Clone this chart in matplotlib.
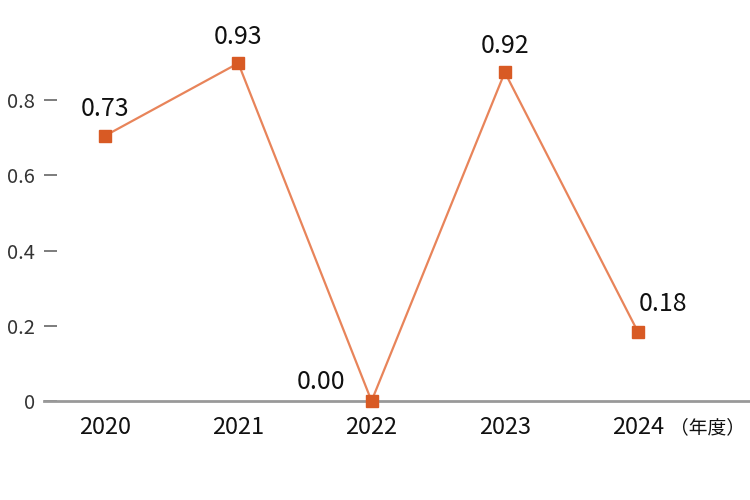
import matplotlib
matplotlib.use("Agg")
import matplotlib.pyplot as plt

plt.rcParams['font.family'] = ['Noto Sans CJK JP', 'DejaVu Sans']

years = ["2020", "2021", "2022", "2023", "2024"]
values = [0.705, 0.898, 0.0, 0.874, 0.183]
labels = ["0.73", "0.93", "0.00", "0.92", "0.18"]
yticks = [0, 0.2, 0.4, 0.6, 0.8]
yticklabels = ["0", "0.2", "0.4", "0.6", "0.8"]
unit_label = "（年度）"

fig = plt.figure(figsize=(7.5, 5), dpi=100)
ax = fig.add_axes([44 / 750, 99 / 500, 1 - 44 / 750, 401 / 500])

x = list(range(len(years)))
ax.plot(x, values, color="#E8845A", linewidth=1.6, zorder=2, clip_on=False)
ax.plot(x, values, linestyle="none", marker="s", markersize=8.5,
        markerfacecolor="#D85A24", markeredgecolor="#D85A24", zorder=3, clip_on=False)

offsets = [(0, 19), (0, 19), (-36, 14), (0, 19), (18, 20)]
for xi, v, lab, off in zip(x, values, labels, offsets):
    ax.annotate(lab, (xi, v), xytext=off, textcoords="offset points",
                ha="center", va="center", fontsize=18, color="#111111")

ax.set_xlim(-0.458, 4.84)
ax.set_ylim(0, 1.066)
ax.set_xticks(x)
ax.set_xticklabels(years, fontsize=17, color="#111111")
ax.set_yticks(yticks)
ax.set_yticklabels(yticklabels, fontsize=14.5, color="#333333")

for side in ["left", "right", "top"]:
    ax.spines[side].set_visible(False)
ax.spines["bottom"].set_color("#999999")
ax.spines["bottom"].set_linewidth(2)

ax.tick_params(axis="x", length=0, pad=11)
ax.tick_params(axis="y", direction="in", length=9.5, width=1.2, color="#666666", pad=6.5)

ax.text(4.52, -0.07, unit_label, transform=ax.transData, ha="center", va="center",
        fontsize=13.5, color="#111111")

fig.savefig("out.png", dpi=100)
